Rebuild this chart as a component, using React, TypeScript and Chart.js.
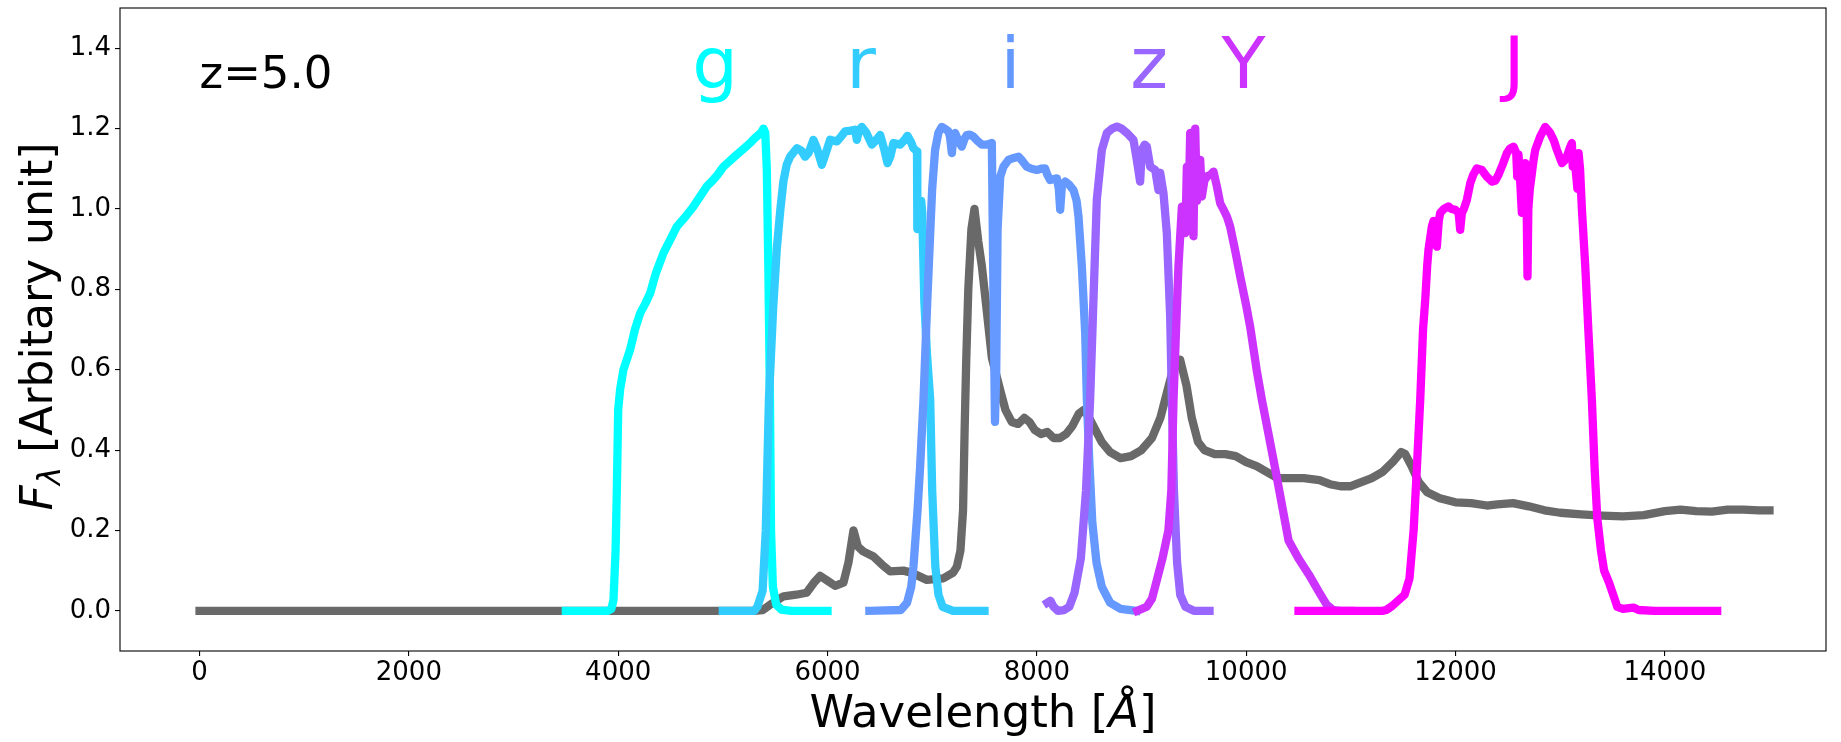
import React, { useEffect, useRef } from 'react';
import { Chart, registerables } from 'chart.js';

Chart.register(...registerables);

// ---------- data ----------
const xTickValues = [0, 2000, 4000, 6000, 8000, 10000, 12000, 14000];
const yTickValues = [0, 0.2, 0.4, 0.6, 0.8, 1.0, 1.2, 1.4];

// galaxy spectrum [wavelength (Å), flux]
const spectrum = [
  [0, 0], [5300, 0], [5380, 0.002], [5450, 0.015], [5580, 0.036], [5700, 0.04], [5800, 0.045],
  [5870, 0.07], [5930, 0.087], [6000, 0.075], [6073, 0.062], [6152, 0.07], [6200, 0.12], [6248, 0.2],
  [6290, 0.16], [6340, 0.148], [6439, 0.135], [6520, 0.115], [6598, 0.098], [6725, 0.1], [6800, 0.095],
  [6949, 0.077], [7108, 0.081], [7200, 0.095], [7236, 0.11], [7270, 0.15], [7295, 0.25], [7310, 0.45],
  [7325, 0.62], [7345, 0.8], [7375, 0.95], [7404, 1.0], [7440, 0.92], [7475, 0.857], [7520, 0.75],
  [7570, 0.63], [7649, 0.55], [7700, 0.5], [7760, 0.47], [7820, 0.465], [7880, 0.48], [7930, 0.47],
  [7980, 0.45], [8040, 0.44], [8100, 0.445], [8160, 0.43], [8220, 0.43], [8280, 0.44], [8340, 0.46],
  [8400, 0.49], [8450, 0.5], [8500, 0.48], [8560, 0.45], [8620, 0.42], [8700, 0.395], [8800, 0.38],
  [8900, 0.385], [9000, 0.4], [9100, 0.43], [9180, 0.48], [9240, 0.54], [9300, 0.6], [9369, 0.625],
  [9430, 0.56], [9480, 0.48], [9540, 0.42], [9600, 0.4], [9700, 0.39], [9800, 0.39], [9900, 0.385],
  [10000, 0.37], [10100, 0.36], [10200, 0.345], [10300, 0.33], [10400, 0.33], [10550, 0.33],
  [10700, 0.325], [10800, 0.315], [10900, 0.31], [11000, 0.31], [11100, 0.32], [11200, 0.33],
  [11300, 0.345], [11400, 0.37], [11480, 0.395], [11520, 0.39], [11580, 0.36], [11650, 0.32],
  [11730, 0.295], [11850, 0.28], [12000, 0.27], [12150, 0.268], [12300, 0.262], [12400, 0.265],
  [12550, 0.268], [12700, 0.26], [12850, 0.25], [13000, 0.244], [13200, 0.24], [13400, 0.237],
  [13600, 0.235], [13800, 0.238], [14000, 0.248], [14150, 0.252], [14300, 0.248], [14450, 0.247],
  [14600, 0.252], [14750, 0.252], [14900, 0.25], [15000, 0.25],
];

const gBand = [
  [3500, 0], [3900, 0], [3935, 0.005], [3955, 0.027], [3975, 0.15], [3987, 0.3], [4000, 0.5],
  [4018, 0.55], [4050, 0.6], [4114, 0.65], [4160, 0.7], [4209, 0.74], [4260, 0.765], [4305, 0.79],
  [4360, 0.84], [4432, 0.89], [4500, 0.925], [4560, 0.956], [4640, 0.98], [4719, 1.006], [4780, 1.03],
  [4846, 1.056], [4900, 1.07], [4950, 1.085], [5005, 1.105], [5070, 1.12], [5133, 1.135], [5200, 1.15],
  [5260, 1.164], [5300, 1.175], [5340, 1.184], [5365, 1.19], [5388, 1.2], [5405, 1.19], [5420, 1.1],
  [5435, 0.85], [5450, 0.525], [5460, 0.2], [5478, 0.06], [5510, 0.015], [5560, 0.003], [5650, 0],
  [6000, 0],
];

const rBand = [
  [5000, 0], [5300, 0], [5330, 0.01], [5380, 0.05], [5410, 0.2], [5440, 0.525], [5480, 0.75],
  [5515, 0.9], [5550, 1.0], [5579, 1.07], [5610, 1.11], [5643, 1.13], [5707, 1.151], [5750, 1.145],
  [5786, 1.13], [5820, 1.14], [5865, 1.172], [5900, 1.15], [5946, 1.11], [5985, 1.14], [6025, 1.172],
  [6089, 1.168], [6130, 1.18], [6168, 1.193], [6220, 1.195], [6264, 1.197], [6280, 1.172], [6300, 1.195],
  [6328, 1.204], [6370, 1.19], [6423, 1.16], [6460, 1.17], [6503, 1.184], [6540, 1.15], [6573, 1.114],
  [6600, 1.13], [6630, 1.164], [6694, 1.16], [6730, 1.17], [6764, 1.182], [6800, 1.165], [6821, 1.151],
  [6855, 1.143], [6858, 0.95], [6880, 0.95], [6895, 1.02], [6905, 0.99], [6925, 0.77], [6950, 0.64],
  [6981, 0.525], [7000, 0.3], [7030, 0.11], [7060, 0.04], [7100, 0.01], [7200, 0], [7500, 0],
];

const iBand = [
  [6400, 0], [6700, 0.002], [6760, 0.02], [6800, 0.06], [6821, 0.11], [6860, 0.25], [6885, 0.36],
  [6917, 0.525], [6950, 0.75], [6981, 0.94], [7000, 1.05], [7028, 1.147], [7060, 1.19], [7092, 1.204],
  [7120, 1.2], [7155, 1.193], [7170, 1.18], [7188, 1.139], [7200, 1.17], [7219, 1.189], [7250, 1.17],
  [7283, 1.155], [7310, 1.175], [7331, 1.184], [7360, 1.185], [7394, 1.18], [7430, 1.17], [7474, 1.16],
  [7520, 1.16], [7570, 1.164], [7585, 0.8], [7600, 0.47], [7612, 0.6], [7625, 0.95], [7650, 1.08],
  [7681, 1.105], [7729, 1.122], [7780, 1.127], [7824, 1.13], [7860, 1.12], [7904, 1.105], [7950, 1.1],
  [8000, 1.097], [8040, 1.1], [8079, 1.101], [8100, 1.085], [8127, 1.072], [8191, 1.076], [8210, 1.05],
  [8223, 0.998], [8240, 1.06], [8271, 1.068], [8310, 1.06], [8350, 1.047], [8380, 1.02], [8398, 0.981],
  [8430, 0.857], [8462, 0.69], [8478, 0.525], [8500, 0.38], [8530, 0.22], [8570, 0.12], [8620, 0.06],
  [8700, 0.02], [8800, 0.005], [8950, 0],
];

const zBand = [
  [8100, 0.02], [8130, 0.025], [8160, 0.01], [8200, 0], [8260, 0.002], [8310, 0.01], [8360, 0.045],
  [8420, 0.13], [8470, 0.3], [8509, 0.525], [8541, 0.774], [8573, 1.023], [8621, 1.147], [8669, 1.189],
  [8720, 1.2], [8765, 1.205], [8810, 1.2], [8860, 1.189], [8923, 1.172], [8955, 1.122], [8987, 1.068],
  [9003, 1.147], [9030, 1.16], [9051, 1.155], [9083, 1.105], [9131, 1.097], [9162, 1.047], [9178, 1.09],
  [9210, 1.039], [9242, 0.94], [9274, 0.732], [9290, 0.525], [9310, 0.3], [9340, 0.12], [9370, 0.04],
  [9420, 0.01], [9500, 0], [9650, 0],
];

const yBand = [
  [8960, 0], [9050, 0.01], [9100, 0.03], [9145, 0.075], [9200, 0.13], [9257, 0.2], [9285, 0.3],
  [9306, 0.525], [9330, 0.7], [9353, 0.857], [9386, 1.006], [9400, 0.95], [9420, 0.94], [9433, 1.105],
  [9450, 1.0], [9465, 1.189], [9480, 1.05], [9497, 0.932], [9505, 1.1], [9513, 1.2], [9529, 1.02],
  [9545, 1.08], [9561, 1.122], [9577, 1.031], [9600, 1.07], [9625, 1.081], [9660, 1.085], [9688, 1.093],
  [9720, 1.056], [9752, 1.014], [9780, 1.0], [9816, 0.981], [9847, 0.956], [9900, 0.89], [9943, 0.832],
  [10000, 0.76], [10038, 0.707], [10100, 0.6], [10150, 0.525], [10280, 0.35], [10405, 0.175],
  [10500, 0.13], [10600, 0.09], [10700, 0.045], [10770, 0.015], [10830, 0.002], [10900, 0], [11000, 0],
];

const jBand = [
  [10500, 0], [11300, 0], [11338, 0.002], [11395, 0.012], [11450, 0.025], [11514, 0.04], [11560, 0.08],
  [11600, 0.2], [11630, 0.35], [11663, 0.525], [11690, 0.7], [11711, 0.774], [11730, 0.86], [11742, 0.898],
  [11774, 0.956], [11790, 0.97], [11810, 0.93], [11822, 0.906], [11840, 0.97], [11854, 0.99], [11890, 1.0],
  [11933, 1.006], [11960, 1.0], [11997, 0.998], [12030, 0.99], [12045, 0.948], [12061, 0.99], [12080, 1.0],
  [12109, 1.023], [12141, 1.064], [12170, 1.085], [12204, 1.101], [12252, 1.097], [12300, 1.08],
  [12348, 1.068], [12380, 1.07], [12411, 1.085], [12450, 1.11], [12491, 1.139], [12520, 1.15],
  [12555, 1.155], [12580, 1.14], [12590, 1.08], [12602, 1.135], [12620, 1.06], [12634, 0.99],
  [12650, 1.08], [12666, 1.114], [12680, 1.0], [12688, 0.832], [12696, 1.0], [12710, 1.05], [12730, 1.089],
  [12745, 1.12], [12762, 1.147], [12809, 1.18], [12857, 1.204], [12905, 1.189], [12940, 1.17],
  [12969, 1.147], [13017, 1.114], [13040, 1.12], [13064, 1.13], [13090, 1.15], [13112, 1.164],
  [13120, 1.105], [13140, 1.12], [13165, 1.05], [13176, 1.139], [13190, 1.1], [13208, 0.998],
  [13240, 0.857], [13271, 0.69], [13303, 0.525], [13330, 0.35], [13355, 0.23], [13390, 0.15],
  [13420, 0.1], [13467, 0.07], [13520, 0.03], [13545, 0.01], [13600, 0.005], [13700, 0.008],
  [13750, 0.002], [13900, 0], [14500, 0],
];

const bandNames = ['g', 'r', 'i', 'z', 'Y', 'J'];
const bandColors = ['#00ffff', '#33ccff', '#6699ff', '#9966ff', '#cc33ff', '#ff00ff'];
const bandLabelWave = [4925, 6320, 7748, 9073, 9974, 12560];
const bandLabelFlux = 1.3;
const redshiftLabel = 'z=5.0';
const redshiftLabelPos = [0, 1.3];
const xTitle = ['Wavelength [', 'Å', ']'];
const yTitle = ['F', 'λ', ' [Arbitary unit]'];

const FONT = "'DejaVu Sans', 'Noto Sans', sans-serif";

export default function App() {
  const ref = useRef<HTMLCanvasElement>(null);

  useEffect(() => {
    const canvas = ref.current;
    if (!canvas) return;
    const bands = [gBand, rBand, iBand, zBand, yBand, jBand];
    const datasets: any[] = bands.map((b, k) => ({
      label: bandNames[k],
      data: b.map(([x, y]) => ({ x, y })),
      borderColor: bandColors[k],
      backgroundColor: bandColors[k],
      borderWidth: 8.3,
      pointRadius: 0,
      borderCapStyle: 'square',
      borderJoinStyle: 'round',
      fill: false,
      tension: 0,
      order: 10 - k,
    }));
    datasets.push({
      label: 'spectrum',
      data: spectrum.map(([x, y]) => ({ x, y })),
      borderColor: '#696969',
      backgroundColor: '#696969',
      borderWidth: 8.3,
      pointRadius: 0,
      borderCapStyle: 'square',
      borderJoinStyle: 'round',
      fill: false,
      tension: 0,
      order: 100,
    });

    const decor = {
      id: 'decor',
      afterDraw(chart: any) {
        const { ctx, chartArea, scales } = chart;
        const xs = scales.x;
        const ys = scales.y;
        ctx.save();
        // frame
        ctx.strokeStyle = '#000';
        ctx.lineWidth = 1.1;
        ctx.strokeRect(chartArea.left, chartArea.top, chartArea.right - chartArea.left, chartArea.bottom - chartArea.top);

        // redshift text
        ctx.fillStyle = '#000';
        ctx.font = `45px ${FONT}`;
        ctx.textAlign = 'left';
        ctx.textBaseline = 'alphabetic';
        ctx.fillText(redshiftLabel, xs.getPixelForValue(redshiftLabelPos[0]), ys.getPixelForValue(redshiftLabelPos[1]));

        // band letters
        ctx.font = `72px ${FONT}`;
        ctx.textAlign = 'center';
        bandNames.forEach((n, k) => {
          ctx.fillStyle = bandColors[k];
          ctx.fillText(n, xs.getPixelForValue(bandLabelWave[k]), ys.getPixelForValue(bandLabelFlux));
        });

        // x title
        ctx.fillStyle = '#000';
        ctx.textAlign = 'left';
        const fReg = `45px ${FONT}`;
        const fIt = `italic 45px ${FONT}`;
        ctx.font = fReg;
        const w0 = ctx.measureText(xTitle[0]).width;
        const w2 = ctx.measureText(xTitle[2]).width;
        ctx.font = fIt;
        const w1 = ctx.measureText(xTitle[1]).width;
        const total = w0 + w1 + w2;
        const cx = (chartArea.left + chartArea.right) / 2 + 10;
        const by = 727;
        let px = cx - total / 2;
        ctx.font = fReg;
        ctx.fillText(xTitle[0], px, by);
        px += w0;
        ctx.font = fIt;
        ctx.fillText(xTitle[1], px, by);
        px += w1;
        ctx.font = fReg;
        ctx.fillText(xTitle[2], px, by);

        // y title (rotated)
        const yReg = `44px ${FONT}`;
        const yIt = `italic 44px ${FONT}`;
        const ySub = `italic 31px ${FONT}`;
        const cy = (chartArea.top + chartArea.bottom) / 2 - 3;
        ctx.translate(52, cy);
        ctx.rotate(-Math.PI / 2);
        ctx.font = yIt;
        const a0 = ctx.measureText(yTitle[0]).width;
        ctx.font = ySub;
        const a1 = ctx.measureText(yTitle[1]).width;
        ctx.font = yReg;
        const a2 = ctx.measureText(yTitle[2]).width;
        let qx = -(a0 + a1 + a2) / 2;
        ctx.font = yIt;
        ctx.fillText(yTitle[0], qx, 0);
        qx += a0;
        ctx.font = ySub;
        ctx.fillText(yTitle[1], qx, 8);
        qx += a1;
        ctx.font = yReg;
        ctx.fillText(yTitle[2], qx, 0);
        ctx.restore();
      },
    };

    const chart = new Chart(canvas, {
      type: 'line',
      data: { datasets },
      options: {
        responsive: false,
        animation: false,
        devicePixelRatio: 1,
        layout: { padding: { left: 0, right: 15, top: 8, bottom: 0 } },
        plugins: {
          legend: { display: false },
          tooltip: { enabled: false },
          title: { display: false },
        },
        scales: {
          x: {
            type: 'linear',
            min: -760,
            max: 15540,
            afterBuildTicks: (s: any) => {
              s.ticks = xTickValues.map((v) => ({ value: v }));
            },
            afterFit: (s: any) => {
              s.height = 91;
              s.paddingLeft = 0;
              s.paddingRight = 0;
            },
            ticks: {
              font: { family: FONT, size: 26 },
              color: '#000',
              padding: 2,
              maxRotation: 0,
              autoSkip: false,
              callback: (v: any) => String(v),
            },
            grid: { drawOnChartArea: false, drawTicks: true, tickLength: 5, color: '#000', lineWidth: 1.1 },
            border: { display: false },
          },
          y: {
            type: 'linear',
            min: -0.1,
            max: 1.5,
            afterBuildTicks: (s: any) => {
              s.ticks = yTickValues.map((v) => ({ value: v }));
            },
            afterFit: (s: any) => {
              s.width = 120;
              s.paddingTop = 0;
              s.paddingBottom = 0;
            },
            ticks: {
              font: { family: FONT, size: 26 },
              color: '#000',
              padding: 4,
              autoSkip: false,
              callback: (v: any) => Number(v).toFixed(1),
            },
            grid: { drawOnChartArea: false, drawTicks: true, tickLength: 5, color: '#000', lineWidth: 1.1 },
            border: { display: false },
          },
        },
      },
      plugins: [decor],
    } as any);

    return () => {
      chart.destroy();
    };
  }, []);

  return (
    <div style={{ position: 'absolute', left: 0, top: 0, width: 1841, height: 742, background: '#fff' }}>
      <canvas ref={ref} width={1841} height={742} style={{ display: 'block', width: 1841, height: 742 }} />
    </div>
  );
}
